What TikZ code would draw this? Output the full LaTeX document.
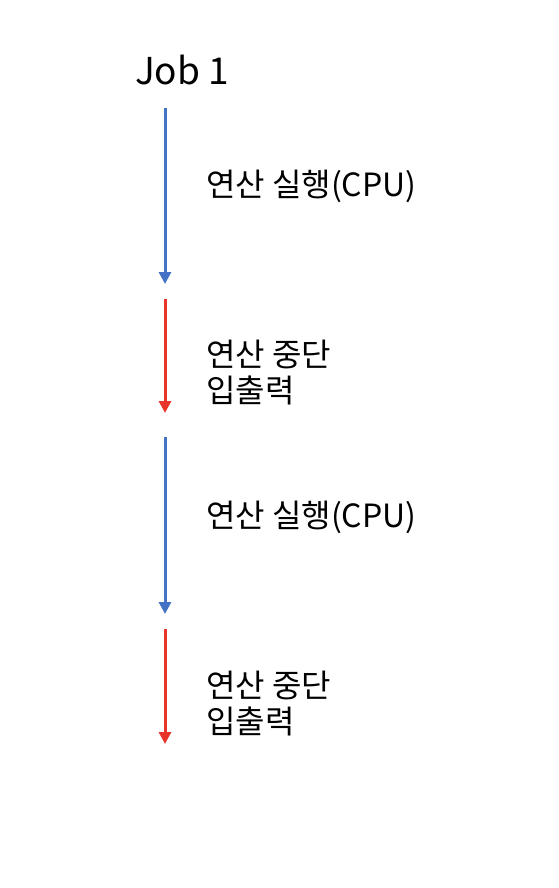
\documentclass[tikz,border=0pt]{standalone}
\usepackage{fontspec}
\setmainfont{Noto Sans CJK KR}
\usetikzlibrary{arrows.meta,positioning}
\definecolor{cpublue}{HTML}{4472C4}
\definecolor{iored}{HTML}{E8352A}
\tikzset{
  run/.style={draw=cpublue, line width=3pt, -{Triangle[length=12pt,width=12pt]}},
  wait/.style={draw=iored, line width=3pt, -{Triangle[length=12pt,width=12pt]}},
  lab/.style={font=\fontsize{32}{36}\selectfont, anchor=west, inner sep=0pt, align=left},
}
\begin{document}
\begin{tikzpicture}[x=1pt,y=-1pt]
\useasboundingbox (0,0) rectangle (558,888);
\node[font=\fontsize{37}{44}\selectfont, inner sep=0pt] (job) at (182,70) {Job 1};

% arrows, top to bottom
\coordinate (r1s) at (165,108);
\coordinate (r1e) at (165,284);
\coordinate (w1s) at (165,299);
\coordinate (w1e) at (165,413);
\coordinate (r2s) at (165,437);
\coordinate (r2e) at (165,614);
\coordinate (w2s) at (165,629);
\coordinate (w2e) at (165,744);
\draw[run] (r1s) -- (r1e);
\draw[wait] (w1s) -- (w1e);
\draw[run] (r2s) -- (r2e);
\draw[wait] (w2s) -- (w2e);

\node[lab] (t1) at (206,186) {연산 실행(CPU)};
\node[lab] (t2) at (206,373) {연산 중단\\입출력};
\node[lab] (t3) at (206,517) {연산 실행(CPU)};
\node[lab] (t4) at (206,704) {연산 중단\\입출력};
\end{tikzpicture}
\end{document}
